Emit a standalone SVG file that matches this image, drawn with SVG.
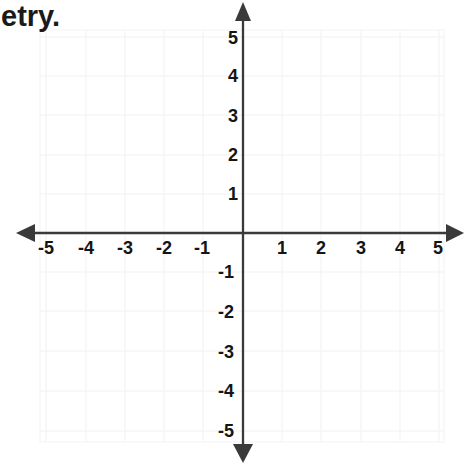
<svg xmlns="http://www.w3.org/2000/svg" width="474" height="466" viewBox="0 0 474 466">
<style>
.grid line{stroke:#f6f6f6;stroke-width:1.5}
.ax{stroke:#3a3a3a;stroke-width:2.3;fill:none}
.ah{fill:#3a3a3a}
.lb{font-family:"Liberation Sans",Arial,sans-serif;font-weight:bold;font-size:18px;fill:#151515}
.xl{text-anchor:middle}
.yl{text-anchor:end}
.title{font-family:"Liberation Sans",Arial,sans-serif;font-weight:bold;font-size:29px;fill:#1a1a1a}
</style>
<rect width="474" height="466" fill="#fff"/>
<g id="grid" class="grid">
<rect x="40" y="30" width="404" height="412" fill="none" stroke="#f7f7f7" stroke-width="1.5"/>
<line x1="46" y1="30" x2="46" y2="442"/>
<line x1="86" y1="30" x2="86" y2="442"/>
<line x1="125" y1="30" x2="125" y2="442"/>
<line x1="164" y1="30" x2="164" y2="442"/>
<line x1="203" y1="30" x2="203" y2="442"/>
<line x1="282" y1="30" x2="282" y2="442"/>
<line x1="321" y1="30" x2="321" y2="442"/>
<line x1="361" y1="30" x2="361" y2="442"/>
<line x1="400" y1="30" x2="400" y2="442"/>
<line x1="439" y1="30" x2="439" y2="442"/>
<line x1="40" y1="37" x2="444" y2="37"/>
<line x1="40" y1="76" x2="444" y2="76"/>
<line x1="40" y1="115" x2="444" y2="115"/>
<line x1="40" y1="155" x2="444" y2="155"/>
<line x1="40" y1="194" x2="444" y2="194"/>
<line x1="40" y1="272" x2="444" y2="272"/>
<line x1="40" y1="311" x2="444" y2="311"/>
<line x1="40" y1="351" x2="444" y2="351"/>
<line x1="40" y1="391" x2="444" y2="391"/>
<line x1="40" y1="431" x2="444" y2="431"/>
</g>
<g id="axes">
<line class="ax" x1="243" y1="16" x2="243" y2="448"/>
<line class="ax" x1="31" y1="233" x2="449" y2="233"/>
<polygon class="ah" points="243,2 251,21 235,21"/>
<polygon class="ah" points="243,463 233,444 253,444"/>
<polygon class="ah" points="16,233 35,224 35,242"/>
<polygon class="ah" points="464,233 446,224 446,242"/>
</g>
<g id="x-labels" class="lb xl">
<text x="46" y="254">-5</text>
<text x="86" y="254">-4</text>
<text x="125" y="254">-3</text>
<text x="164" y="254">-2</text>
<text x="202" y="254">-1</text>
<text x="282" y="254">1</text>
<text x="321" y="254">2</text>
<text x="361" y="254">3</text>
<text x="400" y="254">4</text>
<text x="438" y="254">5</text>
</g>
<g id="y-labels" class="lb yl">
<text x="238" y="44">5</text>
<text x="238" y="82">4</text>
<text x="238" y="122">3</text>
<text x="238" y="161">2</text>
<text x="238" y="200">1</text>
<text x="234" y="278">-1</text>
<text x="234" y="318">-2</text>
<text x="234" y="358">-3</text>
<text x="234" y="397">-4</text>
<text x="234" y="437">-5</text>
</g>
<text class="title" x="1" y="26">etry.</text>
</svg>
